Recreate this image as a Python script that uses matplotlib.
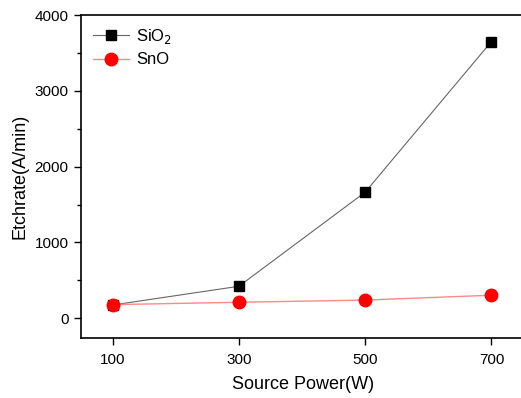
import matplotlib

matplotlib.use("Agg")
import matplotlib.pyplot as plt
from matplotlib.ticker import MultipleLocator

power = [100, 300, 500, 700]
sio2 = [175, 422, 1663, 3650]
sno = [180, 211, 240, 304]
xticks = [100, 300, 500, 700]

plt.rcParams["font.family"] = ["Liberation Sans", "DejaVu Sans"]

fig = plt.figure(figsize=(5.21, 3.98), dpi=100)
# right edge runs just past the image, like the reference
ax = fig.add_axes([0.1555, 0.1508, 0.852, 0.8115])

ax.plot(power, sio2, color="#666666", lw=0.8, marker="s", ms=7, mfc="black",
        mec="black", label="SiO$_2$")
ax.plot(power, sno, color="#ff8a8a", lw=1.0, marker="o", ms=9, mfc="red",
        mec="red", label="SnO")

ax.set_xlim(50, 753)
ax.set_ylim(-260, 4000)
ax.set_xticks(xticks)
ax.yaxis.set_major_locator(MultipleLocator(1000))
ax.yaxis.set_minor_locator(MultipleLocator(500))
ax.tick_params(axis="both", which="major", direction="out", length=5, width=1,
               labelsize=11, pad=4)
ax.tick_params(axis="x", which="major", pad=6)
ax.tick_params(axis="y", which="minor", direction="out", length=3, width=1)
for s in ax.spines.values():
    s.set_linewidth(1.2)

ax.set_xlabel("Source Power(W)", fontsize=13, labelpad=6)
ax.set_ylabel("Etchrate(A/min)", fontsize=13, labelpad=4)

leg = ax.legend(loc="upper left", frameon=False, fontsize=12,
                handlelength=2.2, handletextpad=0.4, borderaxespad=0.4,
                labelspacing=0.4, borderpad=0.3)

fig.savefig("out.png", dpi=100)
